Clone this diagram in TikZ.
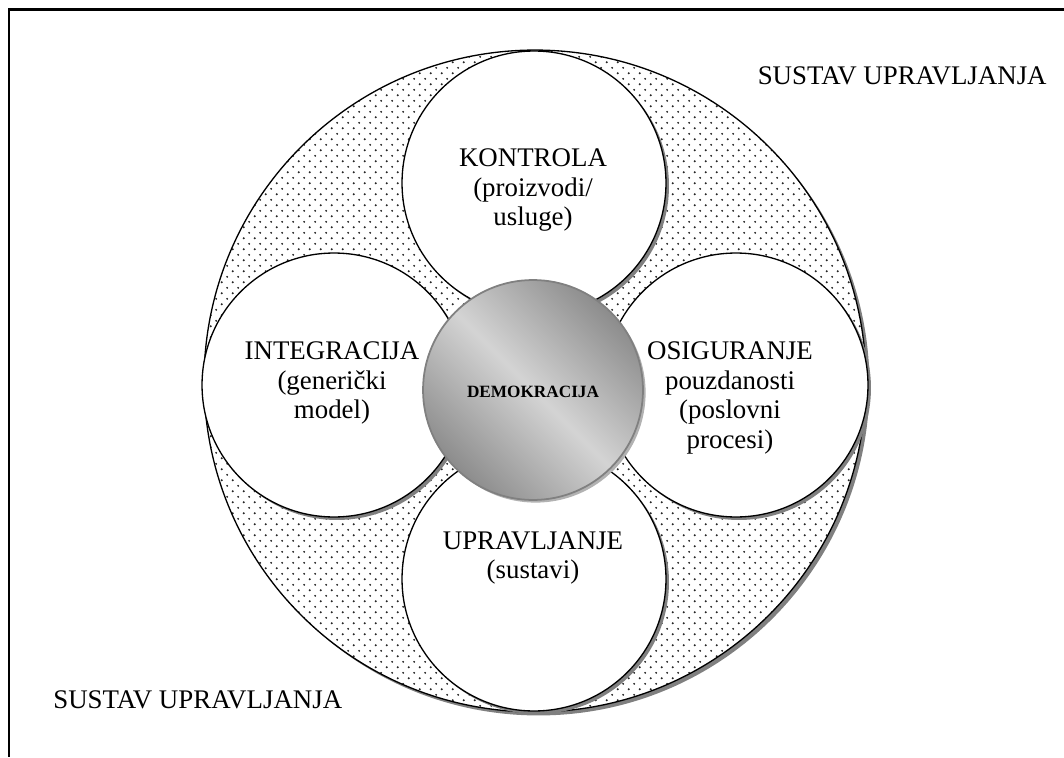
\documentclass[tikz,border=0pt]{standalone}
\usepackage{fontspec}
\setmainfont{Liberation Serif}
\usetikzlibrary{shadows, patterns}

% sparse dot raster of the outer ring
\pgfdeclarepatternformonly{sparse dots}{\pgfqpoint{0pt}{0pt}}{\pgfqpoint{6.24pt}{6.24pt}}{\pgfqpoint{6.24pt}{6.24pt}}{%
  \pgfpathcircle{\pgfqpoint{1.56pt}{1.56pt}}{0.6pt}%
  \pgfpathcircle{\pgfqpoint{4.68pt}{4.68pt}}{0.6pt}%
  \pgfusepath{fill}}

\begin{document}
\begin{tikzpicture}[x=0.02cm, y=-0.02cm,
    lbl/.style={font=\fontsize{15.3}{17}\selectfont, align=center, inner sep=0pt},
    petal/.style={circle, draw, line width=0.75pt, inner sep=0pt, minimum size=5.28cm,
                  drop shadow={shadow xshift=1.7pt, shadow yshift=-1.7pt, fill=black!50, opacity=1},
                  fill=white}
  ]
  \useasboundingbox (0,0) rectangle (1064,757);

  % frame (top and left edge only)
  \draw[line width=1.3pt] (1064,9.5) -- (9,9.5) -- (9,757);

  % outer ring
  \node[circle, draw, line width=0.75pt, inner sep=0pt, minimum size=13.24cm,
        drop shadow={shadow xshift=2pt, shadow yshift=-2pt, fill=black!50, opacity=1},
        preaction={fill=white}, pattern=sparse dots, pattern color=black!85]
        (ring) at (535,381) {};

  % four petals
  \node[petal] (kontrola)    at (534,183) {};
  \node[petal] (integracija) at (334,385) {};
  \node[petal] (osiguranje)  at (736,385) {};
  \node[petal] (upravljanje) at (534,579) {};

  % centre
  \node[circle, draw=black!50, line width=1pt, inner sep=0pt, minimum size=4.4cm,
        drop shadow={shadow xshift=1.5pt, shadow yshift=-1.5pt, fill=black!30, opacity=1},
        top color=black!45, bottom color=black!45, middle color=black!17, shading angle=-45]
        (demo) at (533,390) {};

  % texts
  \node[lbl] (kontrolaT)    at (533,190) {KONTROLA\\(proizvodi/\\usluge)};
  \node[lbl] (integracijaT) at (332,383) {INTEGRACIJA\\(generički\\model)};
  \node[lbl] (osiguranjeT)  at (730,398) {OSIGURANJE\\pouzdanosti\\(poslovni\\procesi)};
  \node[lbl] (upravljanjeT) at (533,558) {UPRAVLJANJE\\(sustavi)};
  \node[font=\fontsize{9.8}{12}\selectfont\bfseries, inner sep=0pt] (demoT) at (533,392) {DEMOKRACIJA};

  \node[lbl, anchor=base east] (sustavTR) at (1047,85)  {SUSTAV UPRAVLJANJA};
  \node[lbl, anchor=base west] (sustavBL) at (53,708)   {SUSTAV UPRAVLJANJA};
\end{tikzpicture}
\end{document}
